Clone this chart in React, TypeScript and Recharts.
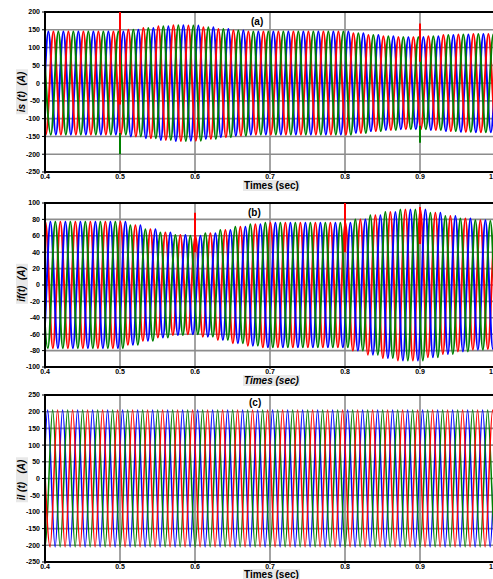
import { CartesianGrid, Line, LineChart, ReferenceArea, XAxis, YAxis } from "recharts";

// time ticks shared by the three panels
const timeTicks = [0.4, 0.5, 0.6, 0.7, 0.8, 0.9, 1];

// peak amplitude read every 0.02 s (0.40 ... 1.00)
const isEnvelope = [145, 145, 145, 145, 145, 145, 150, 155, 160, 163, 162, 157, 152, 148, 145, 145, 145, 145, 145, 145, 145, 140, 135, 132, 130, 130, 132, 135, 137, 138, 138];
const ifEnvelope = [77, 77, 77, 77, 77, 77, 73, 68, 64, 61, 60, 63, 67, 71, 74, 76, 76, 76, 76, 76, 76, 80, 85, 89, 92, 92, 88, 84, 81, 79, 78];
const ilEnvelope = [205, 205, 205, 205, 205, 205, 205, 205, 205, 205, 205, 205, 205, 205, 205, 205, 205, 205, 205, 205, 205, 205, 205, 205, 205, 205, 205, 205, 205, 205, 205];

// time of the first positive peak of each phase
const isFirstPeak = { blue: 0.4045, red: 0.4112, green: 0.4178 };
const ifFirstPeak = { red: 0.4005, blue: 0.4072, green: 0.4138 };
const ilFirstPeak = { blue: 0.4035, green: 0.4102, red: 0.4168 };

// transient spikes: time, start value, end value
const isSpikes = [
  { phase: "red", t: 0.5, from: -60, to: 200 },
  { phase: "green", t: 0.5, from: -140, to: -200 },
  { phase: "red", t: 0.9, from: 60, to: 168 },
  { phase: "green", t: 0.9, from: -120, to: -168 },
];
const ifSpikes = [
  { phase: "red", t: 0.6, from: 40, to: 88 },
  { phase: "red", t: 0.8, from: 40, to: 100 },
  { phase: "red", t: 0.9, from: 50, to: 95 },
];
const ilSpikes: { phase: string; t: number; from: number; to: number }[] = [];

const isTicks = [-250, -200, -150, -100, -50, 0, 50, 100, 150, 200];
const ifTicks = [-100, -80, -60, -40, -20, 0, 20, 40, 60, 80, 100];
const ilTicks = [-250, -200, -150, -100, -50, 0, 50, 100, 150, 200, 250];

const colors: Record<string, string> = { red: "#ff0000", green: "#008000", blue: "#0000ff" };

// one point per half-cycle extremum (50 Hz), amplitude from the envelope
function extrema(first: number, env: number[]) {
  const pts: { t: number; v: number }[] = [];
  for (let k = -2; k <= 61; k++) {
    const t = first + k * 0.01;
    const idx = Math.min(env.length - 1, Math.max(0, Math.round((t - 0.4) / 0.02)));
    pts.push({ t, v: (k % 2 === 0 ? 1 : -1) * env[idx] });
  }
  return pts;
}

const tickStyle = { fill: "#000", fontSize: 7, fontWeight: 700, fontFamily: "Liberation Sans, Arial, sans-serif" };

// x tick; the last one is pulled left so it stays inside the window
function TimeTick(props: any) {
  const { x, y, payload } = props;
  const last = payload.value >= 1;
  return (
    <text x={last ? x - 2 : x} y={y} dy={5} textAnchor={last ? "end" : "middle"} {...tickStyle}>
      {String(Number(Number(payload.value).toFixed(1)))}
    </text>
  );
}

function Panel({
  top,
  height,
  env,
  firstPeak,
  spikes,
  yTicks,
  lineWidth,
}: {
  top: number;
  height: number;
  env: number[];
  firstPeak: Record<string, number>;
  spikes: { phase: string; t: number; from: number; to: number }[];
  yTicks: number[];
  lineWidth: number;
}) {
  const yMin = yTicks[0];
  const yMax = yTicks[yTicks.length - 1];
  return (
    <div style={{ position: "absolute", left: 0, top }}>
      <LineChart width={500} height={height} margin={{ top: 12, right: 5, bottom: 6, left: 0 }}>
        <CartesianGrid stroke="#8c8c8c" strokeWidth={1.6} />
        <XAxis
          dataKey="t"
          type="number"
          domain={[0.4, 1]}
          ticks={timeTicks}
          allowDataOverflow
          height={12}
          tick={<TimeTick />}
          tickSize={2}
          tickMargin={0}
          axisLine={{ stroke: "#000", strokeWidth: 2 }}
          tickLine={{ stroke: "#000" }}
          interval={0}
        />
        <YAxis
          dataKey="v"
          type="number"
          domain={[yMin, yMax]}
          ticks={yTicks}
          allowDataOverflow
          width={45}
          tick={tickStyle}
          tickSize={3}
          axisLine={{ stroke: "#000", strokeWidth: 2 }}
          tickLine={{ stroke: "#000" }}
          interval={0}
        />
        {Object.keys(firstPeak).map((ph) => (
          <Line
            key={ph}
            data={extrema(firstPeak[ph], env)}
            dataKey="v"
            type="monotone"
            stroke={colors[ph]}
            strokeWidth={lineWidth}
            dot={false}
            isAnimationActive={false}
          />
        ))}
        {spikes.map((s, i) => (
          <Line
            key={"s" + i}
            data={[
              { t: s.t, v: s.from },
              { t: s.t, v: s.to },
            ]}
            dataKey="v"
            type="linear"
            stroke={colors[s.phase]}
            strokeWidth={2}
            dot={false}
            isAnimationActive={false}
          />
        ))}
        <ReferenceArea x1={0.4} x2={1} y1={yMin} y2={yMax} fill="none" stroke="#000" strokeWidth={2} />
      </LineChart>
    </div>
  );
}

const labelFont = "Liberation Sans, Arial, sans-serif";

function XLabel({ top, italic }: { top: number; italic?: boolean }) {
  return (
    <div
      style={{
        position: "absolute",
        left: 243,
        top,
        fontFamily: labelFont,
        fontSize: 10,
        fontWeight: 700,
        fontStyle: italic ? "italic" : "normal",
        background: "#e8e8e8",
        lineHeight: "11px",
        padding: "0 1px",
      }}
    >
      Times (sec)
    </div>
  );
}

function YLabel({ cy, text }: { cy: number; text: string }) {
  return (
    <div
      style={{
        position: "absolute",
        left: 22,
        top: cy,
        transform: "translate(-50%, -50%) rotate(-90deg)",
        fontFamily: labelFont,
        fontSize: 10,
        fontWeight: 700,
        fontStyle: "italic",
        whiteSpace: "pre",
        background: "#e8e8e8",
        lineHeight: "12px",
        padding: "0 2px",
      }}
    >
      {text}
    </div>
  );
}

function Title({ x, y, text }: { x: number; y: number; text: string }) {
  return (
    <div
      style={{
        position: "absolute",
        left: x,
        top: y,
        fontFamily: labelFont,
        fontSize: 10,
        fontWeight: 700,
        lineHeight: "11px",
      }}
    >
      {text}
    </div>
  );
}

export default function App() {
  return (
    <div
      style={{
        position: "absolute",
        left: 0,
        top: 0,
        width: 493,
        height: 579,
        overflow: "hidden",
        background: "#fff",
      }}
    >
      <Panel top={0} height={190} env={isEnvelope} firstPeak={isFirstPeak} spikes={isSpikes} yTicks={isTicks} lineWidth={2} />
      <Panel top={191} height={194} env={ifEnvelope} firstPeak={ifFirstPeak} spikes={ifSpikes} yTicks={ifTicks} lineWidth={2} />
      <Panel top={383} height={197} env={ilEnvelope} firstPeak={ilFirstPeak} spikes={ilSpikes} yTicks={ilTicks} lineWidth={1.5} />
      <Title x={251} y={16} text="(a)" />
      <Title x={248} y={207} text="(b)" />
      <Title x={249} y={397} text="(c)" />
      <XLabel top={180} />
      <XLabel top={375} italic />
      <XLabel top={569} />
      <YLabel cy={92} text="is (t)  (A)" />
      <YLabel cy={284} text="if(t)  (A)" />
      <YLabel cy={480} text="il (t)   (A)" />
    </div>
  );
}
